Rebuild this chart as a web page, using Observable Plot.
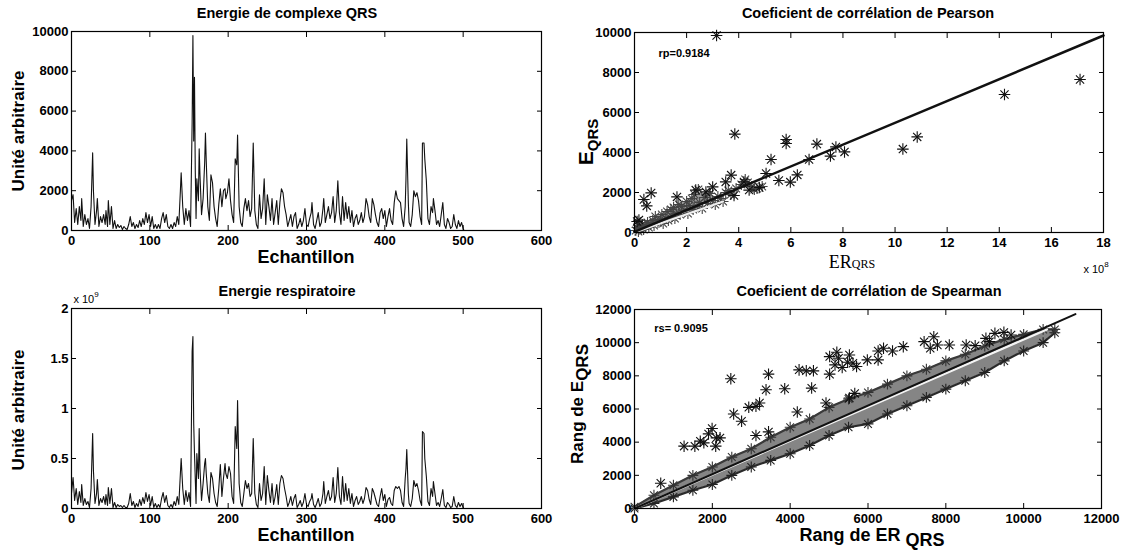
<!DOCTYPE html>
<html><head><meta charset="utf-8">
<script src="https://cdn.jsdelivr.net/npm/d3@7"></script>
<script src="https://cdn.jsdelivr.net/npm/@observablehq/plot@0.6"></script>
<style>
body{margin:0;background:#fff;}
#root{position:relative;width:1128px;height:551px;overflow:hidden;font-family:"Liberation Sans",Arial,sans-serif;color:#000;background:#fff}
.lbl{position:absolute;white-space:nowrap;transform:translate(-50%,-50%);font-weight:bold;line-height:1}
.pl{position:absolute}
</style></head><body><div id="root"></div><script>
// ---------- time series (sample index, QRS energy, respiratory energy x1e9) ----------
const samples = [
0,2,4,6,8,10,12,13,15,17, 19,21,23,25,27,28,30,32,33,35, 37,39,41,43,44,46,47,49,51,53,
55,57,59,61,63,65,67,69,71,73, 75,77,79,81,83,85,87,89,91,93, 95,97,99,101,103,105,107,109,111,113,
115,117,119,121,123,125,127,129,131,133, 135,137,139,140,142,144,146,148,150,152,
154,155,156,157,158,159,160,162,163,164, 166,168,170,171,172,174,176,178,180,182,
184,186,188,190,192,194,196,197,199,201, 203,205,207,209,211,212,214,216,218,220,
222,224,226,228,230,232,234,236,238,240, 242,244,246,248,250,252,254,256,258,260,
262,264,266,268,270,272,274,276,278,280, 282,284,286,288,290,292,294,296,298,300,
302,304,306,307,309,311,313,315,317,319, 321,322,324,326,328,330,332,334,336,338,
340,342,344,346,348,350,352,354,356,358, 360,362,364,366,368,370,372,374,376,378,
380,382,384,386,388,390,392,394,396,398, 400,402,404,406,408,410,412,414,416,418,
420,422,424,426,427,428,430,431,433,435, 437,439,441,443,445,447,448,450,451,453,
455,457,459,461,462,464,466,468,470,472, 474,476,478,480,482,484,486,488,490,492,
494,496,498,500,501];
const qrsEnergy = [
1500,1800,400,1100,300,1200,500,1600,200,800, 300,600,100,1200,3900,2000,300,1000,1600,200, 700,400,800,300,1000,200,1500,300,1200,100,
500,100,300,150,250,50,200,100,50,300, 700,200,400,100,300,150,500,200,600,300, 900,400,800,200,700,100,300,100,300,100,
600,900,400,800,200,100,300,100,400,200, 700,300,2000,2900,1200,300,1100,500,1000,200,
5400,9800,4500,7700,3000,600,2600,1500,4100,2800, 800,1600,3400,4900,3500,1200,500,2800,2400,1200,
600,200,1300,2100,1200,2000,2100,1600,1900,2600, 1500,800,400,3600,3300,4800,1200,400,200,1100,
1600,1000,1500,700,1100,4400,1000,300,100,1800, 600,1100,2600,300,1800,1200,500,1600,300,900,
1500,300,1400,2100,1900,1200,800,200,500,800, 200,700,900,100,300,600,200,500,1100,300,
200,600,900,1400,300,100,500,900,200,400, 1100,1600,400,800,1200,600,900,1700,400,1000,
2500,900,300,1700,500,1400,600,1200,400,1000, 200,600,800,300,500,900,400,700,1600,1300,
700,400,1600,1300,800,400,200,900,1100,600, 1000,200,700,1100,500,300,1400,2000,1600,1500,
1400,600,200,1200,2600,4600,1400,400,200,800, 2000,1700,1900,1500,700,300,4400,4400,3600,2500,
600,300,1200,900,1600,1000,300,500,200,800, 1400,300,100,600,400,100,200,800,300,100,
500,200,400,100,0];
const respEnergy = [
0.15,0.31,0.08,0.2,0.04,0.17,0.06,0.24,0.03,0.1, 0.04,0.07,0.01,0.2,0.75,0.38,0.05,0.15,0.29,0.03, 0.1,0.06,0.12,0.04,0.14,0.03,0.21,0.05,0.2,0.01,
0.06,0.01,0.04,0.02,0.03,0.01,0.03,0.01,0.01,0.05, 0.15,0.03,0.07,0.01,0.05,0.02,0.09,0.03,0.11,0.05, 0.16,0.07,0.14,0.03,0.12,0.01,0.05,0.01,0.04,0.01,
0.1,0.16,0.06,0.13,0.03,0.01,0.04,0.01,0.07,0.03, 0.12,0.04,0.35,0.5,0.2,0.04,0.18,0.07,0.16,0.02,
1.57,1.72,0.85,0.55,0.3,0.05,0.55,0.3,0.8,0.4, 0.08,0.25,0.45,0.5,0.35,0.15,0.06,0.36,0.3,0.15,
0.06,0.02,0.2,0.44,0.12,0.3,0.45,0.35,0.3,0.42, 0.35,0.12,0.05,0.82,0.6,1.08,0.25,0.06,0.02,0.15,
0.28,0.2,0.25,0.12,0.15,0.7,0.15,0.04,0.01,0.25, 0.08,0.15,0.42,0.04,0.33,0.18,0.06,0.25,0.04,0.12,
0.24,0.04,0.25,0.33,0.3,0.2,0.12,0.02,0.06,0.12, 0.03,0.1,0.14,0.01,0.04,0.08,0.02,0.06,0.15,0.04,
0.02,0.07,0.1,0.15,0.04,0.01,0.05,0.1,0.02,0.05, 0.15,0.27,0.05,0.12,0.18,0.08,0.12,0.31,0.06,0.15,
0.41,0.12,0.04,0.32,0.07,0.25,0.08,0.2,0.05,0.15, 0.02,0.08,0.12,0.04,0.07,0.12,0.05,0.1,0.21,0.18,
0.09,0.04,0.2,0.16,0.1,0.04,0.02,0.12,0.2,0.08, 0.14,0.02,0.09,0.11,0.05,0.03,0.18,0.22,0.2,0.22,
0.18,0.06,0.02,0.3,0.4,0.59,0.15,0.05,0.02,0.1, 0.28,0.22,0.25,0.18,0.08,0.03,0.77,0.75,0.5,0.32,
0.07,0.03,0.2,0.12,0.27,0.15,0.03,0.06,0.02,0.1, 0.19,0.03,0.01,0.06,0.04,0.01,0.02,0.12,0.03,0.01,
0.06,0.02,0.05,0.01,0];

// ---------- Pearson scatter (x in 1e8 units) ----------
const pearsonOutX = [3.15,17.1,14.2,10.85,10.3,3.85,5.82,5.82,7.0,5.24,7.52,7.73,8.06,6.7,6.25,5.98,5.54,5.05,4.79,4.4,4.2,3.82,3.71,3.5,0.64,0.36,0.47,0.17,1.63,2.35,3.0,2.74,0.1];
const pearsonOutY = [9850,7650,6900,4780,4170,4920,4650,4450,4420,3650,3820,4280,4030,3650,2880,2520,2600,2950,2250,2120,2530,1850,2870,2530,1980,1650,1330,620,1780,2120,2280,2030,550];
const pearsonDenseX = [0.05,0.1,0.15,0.2,0.25,0.3,0.35,0.4,0.5,0.55, 0.6,0.7,0.75,0.8,0.9,1.0,1.05,1.1,1.2,1.25, 1.3,1.4,1.45,1.5,1.55,1.6,1.7,1.75,1.8,1.9, 2.0,2.05,2.1,2.2,2.25,2.3,2.4,2.45,2.5,2.6, 2.7,2.8,2.9,3.0,3.1,3.2,3.3,3.4,3.5,3.6, 3.7,3.9,4.1,4.25,4.35,4.5,4.6,4.7,4.9];
const pearsonDenseY = [100,250,50,300,180,400,150,350,500,250, 420,600,350,800,500,650,900,450,700,1050, 600,1150,800,1250,700,950,1400,900,1300,1100, 1550,950,1350,1700,1150,1900,1300,2150,1500,1200, 1750,1450,1950,1600,1400,1800,1700,1550,2000,2100, 1900,2200,2400,2650,2500,2300,2150,2200,2300];
const pearsonBandX = [0.3,1.0,1.5,2.0,2.5,3.0];
const pearsonBandLo = [150,500,800,1050,1300,1550];
const pearsonBandHi = [400,900,1250,1600,2000,1900];
const pearsonFitX = [0,18], pearsonFitY = [30,9850];
const pearsonWhiteX = [0,3.4], pearsonWhiteY = [0,1550];

// ---------- Spearman ranks ----------
const spearOutX = [674,1274,1551,1690,1782,1902,1994,2105,2198,2087, 2475,2548,2752,2936,3121,3213,3121,3380,3444,3444, 3860,4183,4229,4414,4598,4552,4921,5014,5199,5245, 5152,5014,5337,5476,5614,5706,5522,5660,5522,5983, 6260,6260,6399,6630,6907,7442,7691,7784,7600,8089, 8523,8754,9030,9122,9261,9492,9677];
const spearOutY = [1520,3760,3760,4060,3960,4500,4820,4260,4260,3760, 7820,5700,5260,6100,6160,6360,4400,7160,8100,4620, 7220,5820,8360,8300,8300,7260,6360,9160,9420,9060, 8660,8100,8500,8820,8760,8560,9260,6940,6660,8960, 8960,9500,9660,9500,9760,10060,10360,9860,9660,9860, 9860,9820,10260,10060,10560,10620,10460];
const spearBandX  = [0,500,1000,1500,2000,2500,3000,3500,4000,4500,5000,5500,6000,6500,7000,7500,8000,8500,9000,9500,10000,10500,10800];
const spearBandLo = [0,300,700,1100,1450,2000,2500,2900,3300,3800,4400,4900,5100,5700,6200,6700,7200,7700,8200,8900,9500,10000,10600];
const spearBandHi = [100,800,1400,2000,2500,3100,3600,4300,4900,5400,6100,6600,7000,7500,8000,8400,8900,9300,9800,10200,10500,10800,10800];
const spearFitX = [0,11330], spearFitY = [0,11720];
const spearWhiteX = [0,10600], spearWhiteY = [0,10800];

// ---------- ticks ----------
const sampleTicks = [0,100,200,300,400,500,600];
const qrsTicks = [0,2000,4000,6000,8000,10000];
const respTicks = [0,0.5,1,1.5,2];
const erTicks = [0,2,4,6,8,10,12,14,16,18];
const rankTicks = [0,2000,4000,6000,8000,10000,12000];

const root = document.getElementById("root");
const fmt = d => String(d);
const zip = (xs, ys) => xs.map((x, i) => ({x, y: ys[i]}));

function stars(data, color, r) {
  return [
    Plot.dot(data, {x: "x", y: "y", symbol: "plus", r, stroke: color, strokeWidth: 1.1}),
    Plot.dot(data, {x: "x", y: "y", symbol: "times", r, stroke: color, strokeWidth: 1.1})
  ];
}

function panel({left, top, width, height, ml, mr, mt, mb, xd, yd, xt, yt, marks}) {
  const svg = Plot.plot({
    width, height, marginLeft: ml, marginRight: mr, marginTop: mt, marginBottom: mb,
    style: {fontFamily: '"Liberation Sans", Arial, sans-serif', fontSize: "13px", fontWeight: "bold", color: "#000", background: "transparent", overflow: "visible"},
    x: {domain: xd}, y: {domain: yd},
    marks: [
      ...marks,
      Plot.frame({stroke: "#000", strokeWidth: 1.2}),
      Plot.axisX(xt, {anchor: "bottom", tickSize: -5, tickFormat: () => "", label: null}),
      Plot.axisX(xt, {anchor: "top", tickSize: -5, tickFormat: () => "", label: null}),
      Plot.axisY(yt, {anchor: "left", tickSize: -5, tickFormat: () => "", label: null}),
      Plot.axisY(yt, {anchor: "right", tickSize: -5, tickFormat: () => "", label: null}),
      Plot.axisX(xt, {anchor: "bottom", tickSize: 0, tickPadding: 5, tickFormat: fmt, label: null}),
      Plot.axisY(yt, {anchor: "left", tickSize: 0, tickPadding: 3, tickFormat: fmt, label: null})
    ]
  });
  svg.classList.add("pl");
  svg.style.left = left + "px"; svg.style.top = top + "px";
  root.appendChild(svg);
}

// Panel 1: QRS energy
panel({left: 0, top: 0, width: 560, height: 275, ml: 71, mr: 19, mt: 31, mb: 45,
  xd: [0, 600], yd: [0, 10000], xt: sampleTicks, yt: qrsTicks,
  marks: [Plot.line(zip(samples, qrsEnergy), {x: "x", y: "y", stroke: "#111", strokeWidth: 1.1})]});

// Panel 3: respiratory energy
panel({left: 0, top: 275, width: 560, height: 276, ml: 71, mr: 19, mt: 33, mb: 43,
  xd: [0, 600], yd: [0, 2], xt: sampleTicks, yt: respTicks,
  marks: [Plot.line(zip(samples, respEnergy), {x: "x", y: "y", stroke: "#111", strokeWidth: 1.1})]});

// Panel 2: Pearson
const pBand = pearsonBandX.map((x, i) => ({x, lo: pearsonBandLo[i], hi: pearsonBandHi[i]}));
panel({left: 564, top: 0, width: 564, height: 275, ml: 70, mr: 25, mt: 32, mb: 43,
  xd: [0, 18], yd: [0, 10000], xt: erTicks, yt: qrsTicks,
  marks: [
    Plot.areaY(pBand, {x: "x", y1: "lo", y2: "hi", fill: "#9a9a9a", curve: "linear"}),
    ...stars(zip(pearsonDenseX, pearsonDenseY), "#444", 3.6),
    ...stars(zip(pearsonOutX, pearsonOutY), "#111", 3.8),
    Plot.line(zip(pearsonWhiteX, pearsonWhiteY), {x: "x", y: "y", stroke: "#eee", strokeWidth: 2}),
    Plot.line(zip(pearsonFitX, pearsonFitY), {x: "x", y: "y", stroke: "#111", strokeWidth: 2.5})
  ]});

// Panel 4: Spearman
const sBand = spearBandX.map((x, i) => ({x, lo: spearBandLo[i], hi: spearBandHi[i]}));
panel({left: 564, top: 275, width: 564, height: 276, ml: 70, mr: 27, mt: 34, mb: 43,
  xd: [0, 12000], yd: [0, 12000], xt: rankTicks, yt: rankTicks,
  marks: [
    Plot.areaY(sBand, {x: "x", y1: "lo", y2: "hi", fill: "#858585"}),
    Plot.line(zip(spearBandX, spearBandLo), {x: "x", y: "y", stroke: "#2a2a2a", strokeWidth: 2.2}),
    Plot.line(zip(spearBandX, spearBandHi), {x: "x", y: "y", stroke: "#3a3a3a", strokeWidth: 2.2}),
    ...stars(zip(spearBandX, spearBandLo), "#222", 3.6),
    ...stars(zip(spearBandX, spearBandHi), "#333", 3.6),
    ...stars(zip(spearOutX, spearOutY), "#111", 3.8),
    Plot.line(zip(spearWhiteX, spearWhiteY), {x: "x", y: "y", stroke: "#f4f4f4", strokeWidth: 2.2}),
    Plot.line(zip(spearFitX, spearFitY), {x: "x", y: "y", stroke: "#111", strokeWidth: 2})
  ]});

// ---------- texts ----------
function label(html, x, y, css = "", rot = false) {
  const d = document.createElement("div");
  d.className = "lbl";
  d.innerHTML = html;
  d.style.left = x + "px"; d.style.top = y + "px";
  d.style.cssText += css;
  if (rot) d.style.transform = "translate(-50%,-50%) rotate(-90deg)";
  root.appendChild(d);
}
label("Energie de complexe QRS", 287, 13, "font-size:14.5px;");
label("Coeficient de corrélation de Pearson", 868, 13, "font-size:14.5px;");
label("Energie respiratoire", 287, 291, "font-size:14.5px;");
label("Coeficient de corrélation de Spearman", 869, 291, "font-size:14.5px;");
label("Echantillon", 306, 257, "font-size:18px;");
label("Echantillon", 306, 535, "font-size:18px;");
label("Unité arbitraire", 18, 131, "font-size:17px;", true);
label("Unité arbitraire", 18, 410, "font-size:17px;", true);
label('<span style="font-size:21px">E</span><span style="font-size:15px;position:relative;top:5px">QRS</span>', 585, 142, "", true);
label('Rang de E<span style="position:relative;top:5px">QRS</span>', 577, 404, "font-size:17px;", true);
label('<span style="font-size:18px">ER</span><span style="font-size:12px">QRS</span>', 852, 262, 'font-family:"Liberation Serif",serif;font-weight:normal;');
label('Rang de ER <span style="position:relative;top:5px">QRS</span>', 872, 535, "font-size:18px;");
label('x 10<sup style="font-size:8px;vertical-align:6px">8</sup>', 1096, 268, "font-size:11px;font-weight:normal;");
label('x 10<sup style="font-size:8px;vertical-align:6px">9</sup>', 86, 298, "font-size:11px;font-weight:normal;");
label("rp=0.9184", 684, 53, "font-size:11px;");
label("rs= 0.9095", 681, 328, "font-size:11px;");
</script></body></html>
